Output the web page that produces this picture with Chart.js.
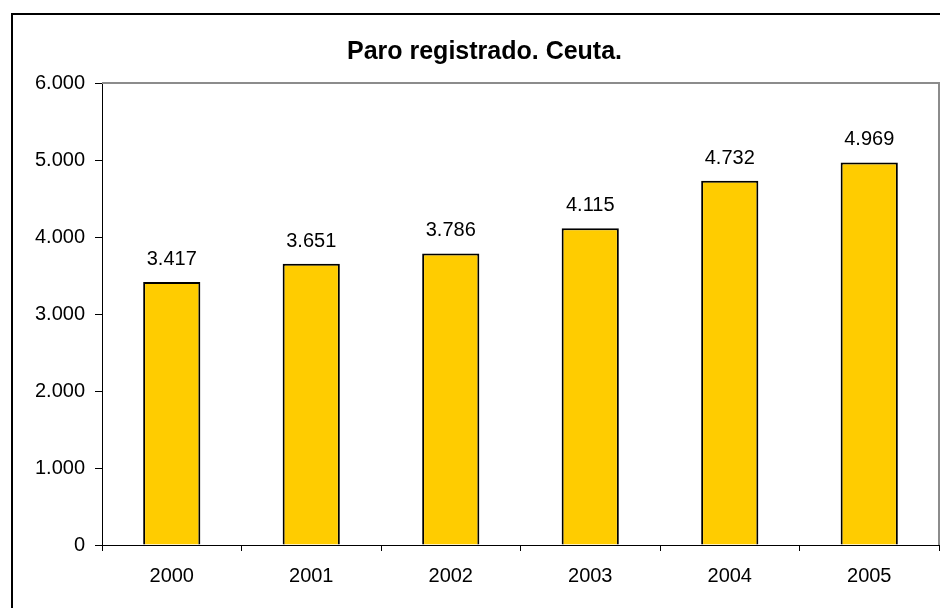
<!DOCTYPE html>
<html>
<head>
<meta charset="utf-8">
<title>Paro registrado. Ceuta.</title>
<script src="https://cdn.jsdelivr.net/npm/chart.js@4/dist/chart.umd.min.js"></script>
<style>
    html, body { margin: 0; padding: 0; background: #fff; overflow: hidden; }
    #wrap { position: relative; width: 940px; height: 608px; overflow: hidden; }
    #frame { position: absolute; left: 11px; top: 13px; width: 1000px; height: 700px; border: 2px solid #000; }
    #chart { position: absolute; left: 0; top: 0; }
</style>
</head>
<body>
<div id="wrap">
    <div id="frame"></div>
    <canvas id="chart" width="940" height="608"></canvas>
</div>
<script>
// Chart data
const years = ['2000', '2001', '2002', '2003', '2004', '2005'];
const parados = [3417, 3651, 3786, 4115, 4732, 4969];
const yTicks = [0, 1000, 2000, 3000, 4000, 5000, 6000];

const fontFamily = "'Liberation Sans', Arial, sans-serif";

// 3417 -> "3.417"
function formatNum(v) {
    return String(v).replace(/\B(?=(\d{3})+(?!\d))/g, '.');
}

// Grey frame on top and right of the plot area
const plotFrame = {
    id: 'plotFrame',
    afterDraw(chart) {
        const { ctx, chartArea: { left, right, top, bottom } } = chart;
        ctx.save();
        ctx.strokeStyle = '#8c8c8c';
        ctx.lineWidth = 2;
        ctx.beginPath();
        ctx.moveTo(left, top);
        ctx.lineTo(right, top);
        ctx.lineTo(right, bottom);
        ctx.stroke();
        ctx.restore();
    }
};

// Value labels above bars
const valueLabels = {
    id: 'valueLabels',
    afterDatasetsDraw(chart) {
        const { ctx } = chart;
        const meta = chart.getDatasetMeta(0);
        ctx.save();
        ctx.font = '20px ' + fontFamily;
        ctx.fillStyle = '#000';
        ctx.textAlign = 'center';
        ctx.textBaseline = 'alphabetic';
        meta.data.forEach((bar, i) => {
            ctx.fillText(formatNum(parados[i]), bar.x, bar.y - 17);
        });
        ctx.restore();
    }
};

const ctx = document.getElementById('chart').getContext('2d');
new Chart(ctx, {
    type: 'bar',
    data: {
        labels: years,
        datasets: [{
            label: 'Paro registrado',
            data: parados,
            backgroundColor: '#ffcc00',
            borderColor: '#000',
            borderWidth: 2,
            barPercentage: 0.41,
            categoryPercentage: 1
        }]
    },
    options: {
        responsive: false,
        animation: false,
        layout: {
            padding: { left: 30, right: 1, top: 0, bottom: 18 }
        },
        scales: {
            x: {
                grid: {
                    offset: true,
                    drawOnChartArea: false,
                    drawTicks: true,
                    tickLength: 6,
                    tickColor: '#000'
                },
                border: { display: true, color: '#000', width: 1 },
                ticks: {
                    color: '#000',
                    padding: 13,
                    maxRotation: 0,
                    font: { family: fontFamily, size: 20 }
                },
                afterFit(scale) { scale.height = 45; }
            },
            y: {
                min: 0,
                max: 6000,
                afterBuildTicks(scale) {
                    scale.ticks = yTicks.map(v => ({ value: v }));
                },
                grid: {
                    drawOnChartArea: false,
                    drawTicks: true,
                    tickLength: 7,
                    tickColor: '#000'
                },
                border: { display: true, color: '#000', width: 1 },
                ticks: {
                    color: '#000',
                    padding: 10,
                    font: { family: fontFamily, size: 20 },
                    callback: v => formatNum(v)
                },
                afterFit(scale) { scale.width = 72; }
            }
        },
        plugins: {
            legend: { display: false },
            tooltip: { enabled: false },
            title: {
                display: true,
                text: 'Paro registrado. Ceuta.',
                color: '#000',
                font: { family: fontFamily, size: 25, weight: 'bold', lineHeight: 1.2 },
                padding: { top: 37, bottom: 16 }
            }
        }
    },
    plugins: [plotFrame, valueLabels]
});
</script>
</body>
</html>
